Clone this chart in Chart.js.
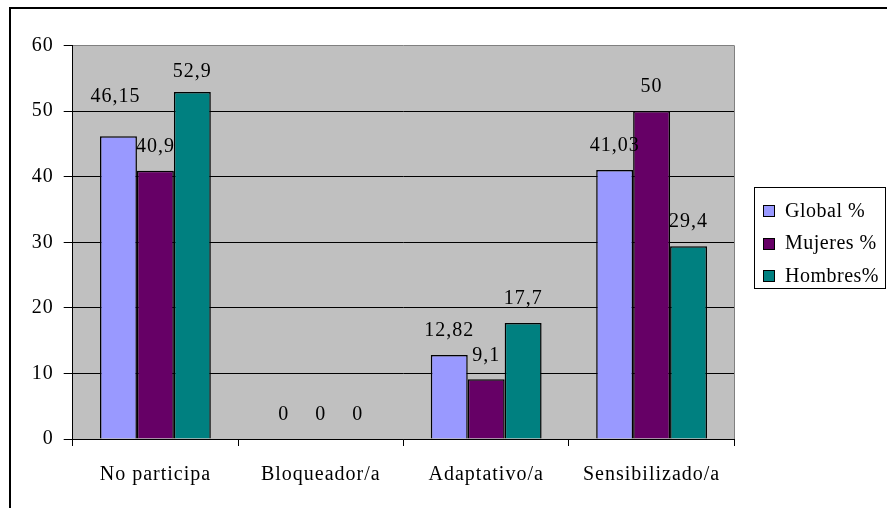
<!DOCTYPE html>
<html>
<head>
<meta charset="utf-8">
<script src="https://cdn.jsdelivr.net/npm/chart.js@4/dist/chart.umd.min.js"></script>
<style>
html,body{margin:0;padding:0;background:#fff;}
#wrap{width:887px;height:508px;}
</style>
</head>
<body>
<div id="wrap"><canvas id="c" width="887" height="508"></canvas></div>
<script>
const categories = ['No participa', 'Bloqueador/a', 'Adaptativo/a', 'Sensibilizado/a'];
const seriesNames = ['Global %', 'Mujeres %', 'Hombres%'];
const globalPct = [46.15, 0, 12.82, 41.03];
const mujeresPct = [40.9, 0, 9.1, 50];
const hombresPct = [52.9, 0, 17.7, 29.4];
const yTicks = [0, 10, 20, 30, 40, 50, 60];

const FONT = '"Liberation Serif", "Times New Roman", serif';
const colors = ['#9999FF', '#660066', '#008080'];

const fmt = v => String(v).replace('.', ',');

const plotBg = {
  id: 'plotBg',
  beforeDraw(chart) {
    const {ctx, chartArea: a} = chart;
    ctx.letterSpacing = '1px';
    ctx.save();
    ctx.fillStyle = '#C0C0C0';
    ctx.fillRect(a.left, a.top, a.right - a.left, a.bottom - a.top);
    ctx.restore();
  },
  beforeDatasetsDraw(chart) {
    const {ctx, chartArea: a} = chart;
    ctx.save();
    ctx.strokeStyle = '#808080';
    ctx.lineWidth = 1;
    ctx.beginPath();
    ctx.moveTo(Math.round(a.right) + 0.5, a.top);
    ctx.lineTo(Math.round(a.right) + 0.5, a.bottom);
    ctx.stroke();
    ctx.restore();
  }
};

const valueLabels = {
  id: 'valueLabels',
  afterDatasetsDraw(chart, args, opts) {
    const {ctx} = chart;
    ctx.save();
    ctx.letterSpacing = '1px';
    ctx.font = '20px ' + FONT;
    ctx.fillStyle = '#000';
    ctx.textAlign = 'center';
    ctx.textBaseline = 'middle';
    chart.data.datasets.forEach((ds, di) => {
      const meta = chart.getDatasetMeta(di);
      meta.data.forEach((el, i) => {
        const n = (opts.nudge && opts.nudge[di + '-' + i]) || [0, 0];
        ctx.fillText(fmt(ds.data[i]), el.x + n[0], el.y - 24 - n[1]);
      });
    });
    ctx.restore();
  }
};

const sideLegend = {
  id: 'sideLegend',
  afterDraw(chart) {
    const {ctx} = chart;
    ctx.save();
    ctx.letterSpacing = '0.5px';
    ctx.strokeStyle = '#000';
    ctx.lineWidth = 1;
    ctx.strokeRect(754.5, 187.5, 131, 101);
    ctx.font = '20px ' + FONT;
    ctx.textBaseline = 'middle';
    ctx.textAlign = 'left';
    chart.data.datasets.forEach((ds, i) => {
      const cy = 210.5 + i * 32.5;
      ctx.fillStyle = ds.backgroundColor;
      ctx.fillRect(763.5, Math.round(cy - 5.5) + 0.5, 11, 11);
      ctx.strokeRect(763.5, Math.round(cy - 5.5) + 0.5, 11, 11);
      ctx.fillStyle = '#000';
      ctx.fillText(ds.label, 785, cy + 1);
    });
    // outer frame
    ctx.lineWidth = 2;
    ctx.beginPath();
    ctx.moveTo(10, 508);
    ctx.lineTo(10, 8);
    ctx.lineTo(887, 8);
    ctx.stroke();
    ctx.restore();
  }
};

const allSeries = [globalPct, mujeresPct, hombresPct];

new Chart(document.getElementById('c'), {
  type: 'bar',
  data: {
    labels: categories,
    datasets: allSeries.map((d, i) => ({
      label: seriesNames[i],
      data: d,
      backgroundColor: colors[i],
      borderColor: '#000',
      borderWidth: 1.5,
      categoryPercentage: 0.67,
      barPercentage: 1.0
    }))
  },
  options: {
    responsive: false,
    animation: false,
    devicePixelRatio: 1,
    layout: {padding: {left: 10, top: 45.5, right: 152.7, bottom: 0}},
    plugins: {
      legend: {display: false},
      tooltip: {enabled: false},
      valueLabels: {nudge: {'0-0': [-3, 16], '2-0': [0, -4]}}
    },
    scales: {
      x: {
        afterFit: s => { s.height = 69; },
        grid: {drawOnChartArea: false, tickLength: 7, color: '#000', tickColor: '#000'},
        border: {color: '#000', width: 1},
        ticks: {font: {family: FONT, size: 20}, color: '#000', padding: 17, maxRotation: 0}
      },
      y: {
        min: 0, max: 60,
        afterFit: s => { s.width = 62.7; },
        afterBuildTicks: s => { s.ticks = yTicks.map(v => ({value: v})); },
        grid: {
          tickLength: 9,
          color: c => (c.tick && c.tick.value === 60) ? '#808080' : '#000',
          tickColor: '#000'
        },
        border: {color: '#000', width: 1},
        ticks: {font: {family: FONT, size: 20}, color: '#000', padding: 10}
      }
    }
  },
  plugins: [plotBg, valueLabels, sideLegend]
});
</script>
</body>
</html>
